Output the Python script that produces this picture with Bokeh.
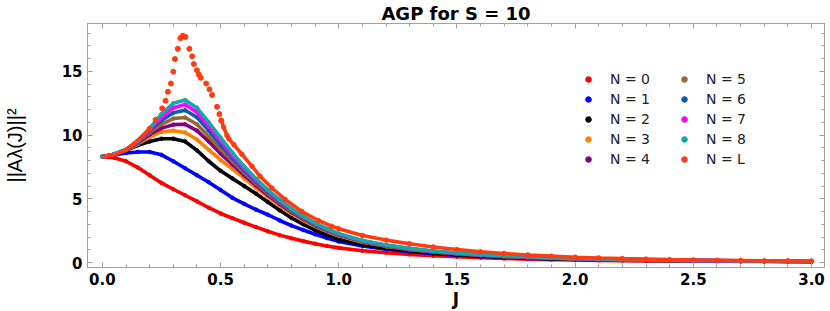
from bokeh.plotting import figure
from bokeh.models import Range1d, FixedTicker, LinearAxis, Legend, LegendItem
from bokeh.embed import file_html
from bokeh.resources import INLINE

# ---------------- data ----------------
J = [0.0, 0.05, 0.10, 0.15, 0.20, 0.25, 0.30, 0.35, 0.40, 0.45, 0.50, 0.55, 0.60, 0.65,
     0.70, 0.75, 0.80, 0.85, 0.90, 0.95, 1.00, 1.1, 1.2, 1.3, 1.4, 1.5, 1.6, 1.7, 1.8,
     1.9, 2.0, 2.1, 2.2, 2.3, 2.4, 2.5, 2.6, 2.7, 2.8, 2.9, 3.0]

N0 = [8.30, 8.22, 7.95, 7.45, 6.85, 6.25, 5.75, 5.28, 4.80, 4.30, 3.85, 3.48, 3.12, 2.78,
      2.45, 2.15, 1.90, 1.68, 1.48, 1.30, 1.15, 0.93, 0.77, 0.64, 0.53, 0.45, 0.38, 0.32,
      0.27, 0.23, 0.20, 0.17, 0.15, 0.13, 0.12, 0.11, 0.10, 0.09, 0.08, 0.07, 0.07]
N1 = [8.30, 8.45, 8.60, 8.68, 8.68, 8.45, 7.95, 7.40, 6.85, 6.30, 5.70, 5.08, 4.60, 4.15,
      3.75, 3.30, 2.90, 2.55, 2.22, 1.92, 1.65, 1.30, 1.05, 0.85, 0.69, 0.57, 0.47, 0.40,
      0.34, 0.29, 0.25, 0.22, 0.19, 0.17, 0.15, 0.13, 0.12, 0.11, 0.10, 0.09, 0.08]
N2 = [8.30, 8.50, 8.80, 9.20, 9.50, 9.72, 9.72, 9.50, 8.80, 7.95, 7.20, 6.60, 6.00, 5.40,
      4.75, 4.10, 3.50, 3.00, 2.55, 2.15, 1.82, 1.40, 1.12, 0.92, 0.75, 0.62, 0.51, 0.43,
      0.36, 0.31, 0.27, 0.23, 0.20, 0.18, 0.16, 0.14, 0.13, 0.12, 0.11, 0.10, 0.09]
N3 = [8.30, 8.50, 8.82, 9.30, 9.85, 10.25, 10.35, 10.20, 9.65, 8.85, 8.05, 7.35, 6.60, 5.85,
      5.15, 4.45, 3.85, 3.30, 2.85, 2.45, 2.10, 1.60, 1.27, 1.02, 0.83, 0.69, 0.57, 0.48,
      0.40, 0.34, 0.29, 0.25, 0.22, 0.19, 0.17, 0.15, 0.14, 0.13, 0.12, 0.11, 0.10]
N4 = [8.30, 8.50, 8.84, 9.38, 10.05, 10.55, 10.82, 10.85, 10.35, 9.50, 8.55, 7.70, 6.85, 6.05,
      5.30, 4.60, 3.95, 3.40, 2.92, 2.50, 2.15, 1.64, 1.30, 1.04, 0.85, 0.70, 0.58, 0.49,
      0.41, 0.35, 0.30, 0.26, 0.22, 0.20, 0.18, 0.16, 0.14, 0.13, 0.12, 0.11, 0.10]
N5 = [8.30, 8.50, 8.85, 9.45, 10.20, 10.85, 11.30, 11.38, 10.85, 9.90, 8.90, 7.95, 7.05, 6.20,
      5.42, 4.70, 4.03, 3.46, 2.97, 2.55, 2.18, 1.66, 1.31, 1.06, 0.87, 0.72, 0.59, 0.50,
      0.42, 0.36, 0.31, 0.27, 0.23, 0.20, 0.18, 0.16, 0.15, 0.13, 0.12, 0.11, 0.11]
N6 = [8.30, 8.50, 8.85, 9.50, 10.35, 11.15, 11.75, 11.95, 11.40, 10.35, 9.25, 8.20, 7.25, 6.35,
      5.52, 4.78, 4.10, 3.52, 3.02, 2.59, 2.21, 1.68, 1.33, 1.08, 0.88, 0.73, 0.60, 0.51,
      0.43, 0.37, 0.32, 0.27, 0.24, 0.21, 0.18, 0.17, 0.15, 0.14, 0.12, 0.12, 0.11]
N7 = [8.30, 8.50, 8.85, 9.52, 10.45, 11.40, 12.15, 12.40, 11.80, 10.70, 9.55, 8.42, 7.40, 6.47,
      5.62, 4.86, 4.16, 3.57, 3.06, 2.63, 2.24, 1.70, 1.35, 1.09, 0.89, 0.74, 0.61, 0.52,
      0.44, 0.37, 0.32, 0.28, 0.24, 0.21, 0.19, 0.17, 0.15, 0.14, 0.13, 0.12, 0.11]
N8 = [8.30, 8.50, 8.87, 9.55, 10.55, 11.65, 12.50, 12.75, 12.15, 11.00, 9.80, 8.62, 7.55, 6.58,
      5.70, 4.92, 4.22, 3.62, 3.10, 2.66, 2.27, 1.73, 1.37, 1.11, 0.91, 0.75, 0.62, 0.53,
      0.45, 0.38, 0.33, 0.28, 0.25, 0.22, 0.19, 0.17, 0.16, 0.14, 0.13, 0.12, 0.12]

J_L = [0.0, 0.05, 0.10, 0.15, 0.20, 0.225, 0.253, 0.267, 0.277, 0.29, 0.30, 0.307, 0.319,
       0.33, 0.34, 0.352, 0.368, 0.38, 0.387, 0.40, 0.408, 0.416, 0.439, 0.453, 0.464,
       0.485, 0.495, 0.503, 0.513, 0.527, 0.535, 0.556, 0.59, 0.633, 0.668, 0.717, 0.773,
       0.844, 0.914, 0.97, 1.0, 1.1, 1.2, 1.3, 1.4, 1.5, 1.6, 1.7, 1.8, 1.9, 2.0, 2.1, 2.2,
       2.3, 2.4, 2.5, 2.6, 2.7, 2.8, 2.9, 3.0]
NL = [8.30, 8.45, 8.85, 9.60, 10.50, 11.20, 12.10, 12.70, 13.40, 14.05, 14.98, 15.97, 16.77,
      17.60, 17.80, 17.70, 16.77, 16.18, 15.58, 15.09, 14.75, 14.50, 14.05, 13.59, 13.15,
      12.22, 11.65, 11.14, 10.62, 9.97, 9.70, 9.25, 8.50, 7.55, 6.75, 5.85, 4.95,
      4.00, 3.30, 2.85, 2.65, 2.12, 1.76, 1.47, 1.22, 1.02, 0.85, 0.71, 0.59, 0.50, 0.42,
      0.36, 0.31, 0.27, 0.23, 0.20, 0.18, 0.16, 0.14, 0.13, 0.12]

SERIES_LABELS = ["N = 0", "N = 1", "N = 2", "N = 3", "N = 4",
                 "N = 5", "N = 6", "N = 7", "N = 8", "N = L"]
SERIES_COLORS = ["#FF0000", "#0000FF", "#000000", "#FF8000", "#800080",
                 "#996633", "#0A5CAD", "#FF00FF", "#13A9A8", "#FF3B0F"]

X_TICKS = [0.0, 0.5, 1.0, 1.5, 2.0, 2.5, 3.0]
X_TICK_LABELS = ["0.0", "0.5", "1.0", "1.5", "2.0", "2.5", "3.0"]
X_MINOR = [0.1, 0.2, 0.3, 0.4, 0.6, 0.7, 0.8, 0.9, 1.1, 1.2, 1.3, 1.4, 1.6, 1.7, 1.8, 1.9,
           2.1, 2.2, 2.3, 2.4, 2.6, 2.7, 2.8, 2.9]
Y_TICKS = [0, 5, 10, 15]
Y_TICK_LABELS = ["0", "5", "10", "15"]
Y_MINOR = [1, 2, 3, 4, 6, 7, 8, 9, 11, 12, 13, 14, 16, 17, 18]

TITLE = "AGP for S = 10"
X_LABEL = "J"
Y_LABEL = "||A\u03bb(J)||\u00b2"

X_START, X_END = -0.063, 3.055
Y_START, Y_END = -0.39, 18.76

FRAME_GRAY = "#A0A0A0"

# ---------------- figure ----------------
p = figure(width=830, height=311, output_backend="svg", toolbar_location=None,
           x_range=Range1d(X_START, X_END), y_range=Range1d(Y_START, Y_END),
           min_border_left=85, min_border_right=6, min_border_top=20, min_border_bottom=44,
           x_axis_location=None, y_axis_location=None)
p.grid.visible = False
p.outline_line_color = FRAME_GRAY
p.outline_line_width = 1
p.background_fill_color = "white"
p.border_fill_color = "white"

p.title.text = TITLE
p.title.align = "center"
p.title.text_font = "DejaVu Sans"
p.title.text_font_style = "bold"
p.title.text_font_size = "18px"
p.title.text_color = "black"
p.title.standoff = 0
p.title.offset = 0

xt = FixedTicker(ticks=X_TICKS, minor_ticks=X_MINOR)
yt = FixedTicker(ticks=Y_TICKS, minor_ticks=Y_MINOR)


def style_axis(ax, show_labels):
    ax.axis_line_color = FRAME_GRAY
    ax.major_tick_line_color = FRAME_GRAY
    ax.minor_tick_line_color = FRAME_GRAY
    ax.major_tick_in = 5
    ax.major_tick_out = 0
    ax.minor_tick_in = 3
    ax.minor_tick_out = 0
    if show_labels:
        ax.major_label_text_font = "DejaVu Sans"
        ax.major_label_text_font_style = "bold"
        ax.major_label_text_font_size = "15px"
        ax.major_label_text_color = "black"
    else:
        ax.major_label_text_color = None
        ax.major_label_text_font_size = "1px"
        ax.major_label_standoff = 0


bottom = LinearAxis(ticker=xt, major_label_overrides=dict(zip(X_TICKS, X_TICK_LABELS)))
style_axis(bottom, True)
bottom.major_label_standoff = 5
bottom.axis_label = X_LABEL
bottom.axis_label_text_font = "DejaVu Sans"
bottom.axis_label_text_font_style = "bold"
bottom.axis_label_text_font_size = "17px"
bottom.axis_label_text_color = "black"
bottom.axis_label_standoff = 1
p.add_layout(bottom, "below")

top = LinearAxis(ticker=xt)
style_axis(top, False)
p.add_layout(top, "above")

left = LinearAxis(ticker=yt, major_label_overrides=dict(zip(Y_TICKS, Y_TICK_LABELS)))
style_axis(left, True)
left.major_label_standoff = 5
left.axis_label = Y_LABEL
left.axis_label_text_font = "Liberation Sans"
left.axis_label_text_font_style = "normal"
left.axis_label_text_font_size = "20px"
left.axis_label_text_color = "black"
left.axis_label_standoff = 33
p.add_layout(left, "left")

right = LinearAxis(ticker=yt)
style_axis(right, False)
p.add_layout(right, "right")

# ---------------- series ----------------
series_n = [N0, N1, N2, N3, N4, N5, N6, N7, N8]
for i, ys in enumerate(series_n):
    p.line(J, ys, line_color=SERIES_COLORS[i], line_width=3.6)
    p.scatter(J, ys, size=3.5, color=SERIES_COLORS[i])

cL = SERIES_COLORS[9]
# flat parts of N = L look continuous, the steep peak shows separate points
lo = [k for k, j in enumerate(J_L) if j <= 0.20]
hi = [k for k, j in enumerate(J_L) if j >= 0.503]
mid = [k for k, j in enumerate(J_L) if 0.20 <= j <= 0.503]
p.line([J_L[k] for k in lo], [NL[k] for k in lo], line_color=cL, line_width=3.6)
p.line([J_L[k] for k in hi], [NL[k] for k in hi], line_color=cL, line_width=3.6)
p.scatter([J_L[k] for k in mid], [NL[k] for k in mid], size=5, color=cL)
p.scatter([J_L[k] for k in hi], [NL[k] for k in hi], size=4.5, color=cL)

# legend glyphs: round markers whose only point is undefined (never drawn in the frame)
nan = float("nan")
legend_renderers = [p.scatter(x=[nan], y=[nan], size=7, color=SERIES_COLORS[i]) for i in range(10)]


def make_legend(idx, loc):
    lg = Legend(items=[LegendItem(label=SERIES_LABELS[i], renderers=[legend_renderers[i]]) for i in idx],
                location=loc, orientation="vertical")
    lg.background_fill_alpha = 0
    lg.border_line_color = None
    lg.padding = 0
    lg.margin = 0
    lg.spacing = 0
    lg.glyph_width = 14
    lg.glyph_height = 20
    lg.label_height = 20
    lg.label_standoff = 15
    lg.label_text_font = "DejaVu Sans"
    lg.label_text_font_size = "14px"
    lg.label_text_color = "#222222"
    return lg


p.add_layout(make_legend(range(0, 5), (494, 98)))
p.add_layout(make_legend(range(5, 10), (590, 98)))

open("out.html", "w").write(file_html(p, INLINE))
